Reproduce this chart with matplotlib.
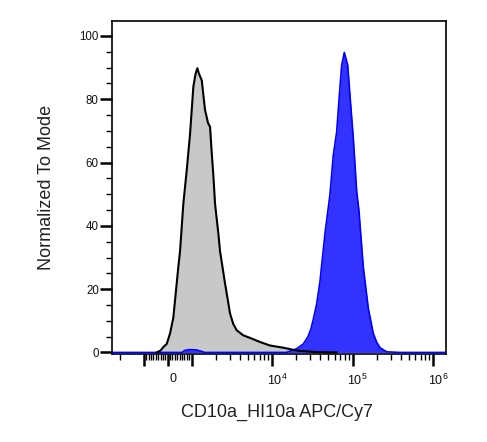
import matplotlib
matplotlib.use("Agg")
import matplotlib.pyplot as plt
import matplotlib.transforms as mtransforms

plt.rcParams["font.family"] = ["Liberation Sans", "DejaVu Sans"]
plt.rcParams["mathtext.fontset"] = "custom"
plt.rcParams["mathtext.rm"] = "Liberation Sans"
plt.rcParams["mathtext.it"] = "Liberation Sans:italic"

# isotype / unstained control (grey) - intensity vs % of mode
gray_x = [-462, -300, -185, -42, 97, 235, 307, 445, 517, 655, 798, 937, 1053, 1121,
          1180, 1240, 1339, 1471, 1603, 1698, 1782, 1866, 1958, 2153, 2259,
          2607, 3008, 3300, 3641, 4399, 5330, 7096, 9441, 13800, 20280, 35900, 63600]
gray_y = [0, 0.6, 1.7, 2.7, 6, 11, 16.5, 27, 32, 47, 57.6, 69, 84, 88,
          89.8, 88, 86, 76.6, 72.5, 71.3, 63, 56, 47, 37.6, 32,
          21.8, 12.3, 9, 7, 5.4, 4.6, 3.3, 2.2, 1.5, 0.6, 0.1, 0]

# stained sample (blue)
blue_x = [-2490, 600, 700, 900, 1150, 1350, 1450, 15000, 16740, 20280, 24490,
          28000, 30500, 32590, 35900, 39450, 45500, 52500, 57700, 63600, 68500, 73400,
          79100, 87100, 93100, 102300, 112800, 120000, 136100, 157000, 181100,
          200000, 219600, 266000, 389000, 1450000]
blue_y = [0, 0, 0.6, 0.9, 0.8, 0.3, 0, 0, 0.4, 1.2, 2.7,
          5.0, 7.5, 10.5, 15.4, 22.5, 37.6, 50, 62.3, 69.7, 81, 90.8,
          94.8, 90.8, 81, 67.7, 50.7, 45, 27, 14, 6,
          3.2, 1.5, 0.2, 0, 0]

major_ticks = [-1000, 0, 1000, 1e4, 1e5, 1e6]
major_labels = ["", "0", "", "$10^4$", "$10^5$", "$10^6$"]

fig = plt.figure(figsize=(4.87, 4.42), dpi=100)
ax = fig.add_axes([0.23, 0.199, 0.6858, 0.754])

ax.fill_between(gray_x, gray_y, 0, color="#c8c8c8", linewidth=0, zorder=1)
ax.fill_between(blue_x, blue_y, 0, color="#3333ff", linewidth=0, zorder=2)
ax.plot(blue_x, blue_y, color="#0000ff", linewidth=1.2, zorder=3)
ax.plot(gray_x, gray_y, color="black", linewidth=1.5, zorder=4)

ax.set_xscale("symlog", linthresh=1000, linscale=0.2664)
ax.set_xlim(-2490, 1.45e6)
ax.set_ylim(-0.5, 104.8)

# ticks
ax.set_xticks(major_ticks)
ax.set_xticklabels(major_labels)
minor = [-2000] + list(range(-900, 1000, 100))
for dec in [1e3, 1e4, 1e5]:
    minor += [m * dec for m in range(2, 10)]
ax.set_xticks(minor, minor=True)
ax.set_yticks(range(0, 101, 20))
ax.set_yticks(range(0, 101, 5), minor=True)

ax.tick_params(which="major", length=8.5, width=1.8, colors="black",
               labelcolor="#111111")
ax.tick_params(which="minor", length=4, width=1.0, colors="black")
ax.tick_params(axis="y", labelsize=8.3, pad=1)
ax.tick_params(axis="x", labelsize=9, pad=5)

# x tick labels sit a little to the right of their ticks
shift = mtransforms.ScaledTranslation(5 / 100, 0, fig.dpi_scale_trans)
for lab in ax.get_xticklabels():
    lab.set_transform(lab.get_transform() + shift)

for s in ax.spines.values():
    s.set_linewidth(1.2)

ax.set_xlabel("CD10a_HI10a APC/Cy7", fontsize=13, color="#222222")
ax.set_ylabel("Normalized To Mode", fontsize=13, color="#222222")
ax.xaxis.set_label_coords(0.494, -0.174)
ax.xaxis.label.set_va("center")
ax.yaxis.set_label_coords(-0.195, 0.501)
ax.yaxis.label.set_va("center")

plt.savefig("out.png", dpi=100)
